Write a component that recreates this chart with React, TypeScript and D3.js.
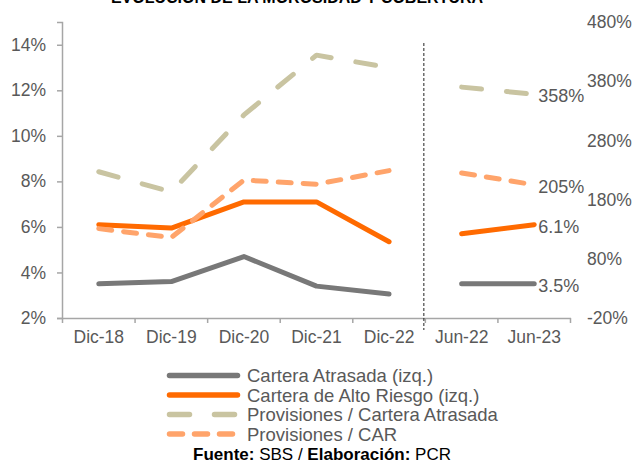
import React, { useRef, useEffect } from 'react';
import * as d3 from 'd3';

const categories = ['Dic-18', 'Dic-19', 'Dic-20', 'Dic-21', 'Dic-22', 'Jun-22', 'Jun-23'];
const atrasada = [3.5, 3.6, 4.7, 3.4, 3.05, 3.5, 3.5];
const altoRiesgo = [6.1, 5.95, 7.1, 7.1, 5.35, 5.7, 6.1];
const provAtrasada = [227, 193, 323, 424, 403, 370, 358];
const provCar = [131, 116, 213, 206, 229, 225, 205];
const leftTicks = [2, 4, 6, 8, 10, 12, 14];
const rightTicks = [-20, 80, 180, 280, 380, 480];
const lastLabels = ['3.5%', '6.1%', '358%', '205%'];
const legendNames = [
  'Cartera Atrasada (izq.)',
  'Cartera de Alto Riesgo (izq.)',
  'Provisiones / Cartera Atrasada',
  'Provisiones / CAR',
];
// the chart breaks the lines between Dic-22 and Jun-22
const segments = [[0, 5], [5, 7]];

const W = 635;
const H = 464;
const textColor = '#595959';
const axisColor = '#a6a6a6';
const font = 'Arial, "Liberation Sans", sans-serif';

const App = () => {
  const ref = useRef(null);

  useEffect(() => {
    const svg = d3.select(ref.current);
    svg.selectAll('*').remove();

    const x = d3.scaleBand().domain(categories).range([62.5, 570.5]);
    const yL = d3.scaleLinear().domain([2, 15]).range([318, 22]);
    const yR = d3.scaleLinear().domain([-20, 480]).range([318, 22]);

    // title (cut off at the top like the source)
    svg.append('text')
      .attr('x', 297).attr('y', 3)
      .attr('text-anchor', 'middle')
      .attr('font-family', font).attr('font-weight', 'bold').attr('font-size', 16)
      .attr('fill', '#000')
      .text('EVOLUCIÓN DE LA MOROSIDAD Y COBERTURA');

    // left axis
    const gl = svg.append('g').attr('transform', 'translate(62,0)')
      .call(d3.axisLeft(yL).tickValues(leftTicks).tickSize(5).tickPadding(11)
        .tickFormat((d) => d + '%'));
    gl.select('.domain').attr('stroke', axisColor).attr('stroke-width', 1.5);
    gl.selectAll('.tick line').attr('stroke', axisColor).attr('stroke-width', 1.5);
    gl.selectAll('.tick text').attr('fill', textColor).attr('font-size', 17.5).attr('font-family', font);

    // right axis, labels only
    const gr = svg.append('g').attr('transform', 'translate(587,0)')
      .call(d3.axisRight(yR).tickValues(rightTicks).tickSize(0).tickPadding(0)
        .tickFormat((d) => d + '%'));
    gr.select('.domain').remove();
    gr.selectAll('.tick text').attr('fill', textColor).attr('font-size', 17.5).attr('font-family', font);

    // bottom axis
    const gb = svg.append('g').attr('transform', 'translate(0,318)')
      .call(d3.axisBottom(x).tickSize(0).tickPadding(13));
    gb.select('.domain').attr('stroke', axisColor).attr('stroke-width', 1.5);
    gb.selectAll('.tick text').attr('fill', textColor).attr('font-size', 17.5).attr('font-family', font);
    const bounds = categories.map((c) => x(c)).concat([x.range()[1]]);
    gb.selectAll('.bound')
      .data(bounds)
      .join('line')
      .attr('x1', (d) => d).attr('x2', (d) => d)
      .attr('y1', 0).attr('y2', 5)
      .attr('stroke', axisColor).attr('stroke-width', 1.5);

    // separator between annual and semester data
    const sepX = x('Jun-22') - 1.5;
    svg.append('line')
      .attr('x1', sepX).attr('x2', sepX)
      .attr('y1', 43).attr('y2', 330)
      .attr('stroke', '#222').attr('stroke-width', 1)
      .attr('stroke-dasharray', '3,2');

    const cx = (i) => x(categories[i]) + x.bandwidth() / 2;

    const series = [
      { values: atrasada, scale: yL, color: '#787878', dash: null },
      { values: altoRiesgo, scale: yL, color: '#ff6a00', dash: null },
      { values: provAtrasada, scale: yR, color: '#c9c4a1', dash: '20,25' },
      { values: provCar, scale: yR, color: '#ffa46b', dash: '13,12' },
    ];

    series.forEach((s, k) => {
      const line = d3.line()
        .x((d) => cx(d))
        .y((d) => s.scale(s.values[d]));
      segments.forEach(([a, b]) => {
        svg.append('path')
          .attr('d', line(d3.range(a, b)))
          .attr('fill', 'none')
          .attr('stroke', s.color)
          .attr('stroke-width', 5)
          .attr('stroke-linecap', 'round')
          .attr('stroke-linejoin', 'round')
          .attr('stroke-dasharray', s.dash);
      });
      const last = s.values.length - 1;
      svg.append('text')
        .attr('x', cx(last) + 4)
        .attr('y', s.scale(s.values[last]) + 2)
        .attr('dominant-baseline', 'central')
        .attr('font-family', font).attr('font-size', 18)
        .attr('fill', textColor)
        .text(lastLabels[k]);

      // legend row
      const ly = 375.5 + k * 19.5;
      svg.append('line')
        .attr('x1', 169.5).attr('x2', 237.5)
        .attr('y1', ly).attr('y2', ly)
        .attr('stroke', s.color).attr('stroke-width', 5.5)
        .attr('stroke-linecap', 'round')
        .attr('stroke-dasharray', s.dash);
      svg.append('text')
        .attr('x', 247).attr('y', ly)
        .attr('dominant-baseline', 'central')
        .attr('font-family', font).attr('font-size', 18.5)
        .attr('fill', textColor)
        .text(legendNames[k]);
    });

    // source note
    const src = svg.append('text')
      .attr('x', 322).attr('y', 460)
      .attr('text-anchor', 'middle')
      .attr('font-family', font).attr('font-size', 17)
      .attr('fill', '#000');
    src.append('tspan').attr('font-weight', 'bold').text('Fuente:');
    src.append('tspan').text(' SBS / ');
    src.append('tspan').attr('font-weight', 'bold').text('Elaboración:');
    src.append('tspan').text(' PCR');
  }, []);

  return (
    <svg
      ref={ref}
      width={W}
      height={H}
      style={{ position: 'absolute', left: 0, top: 0, background: '#fff' }}
    />
  );
};

export default App;
